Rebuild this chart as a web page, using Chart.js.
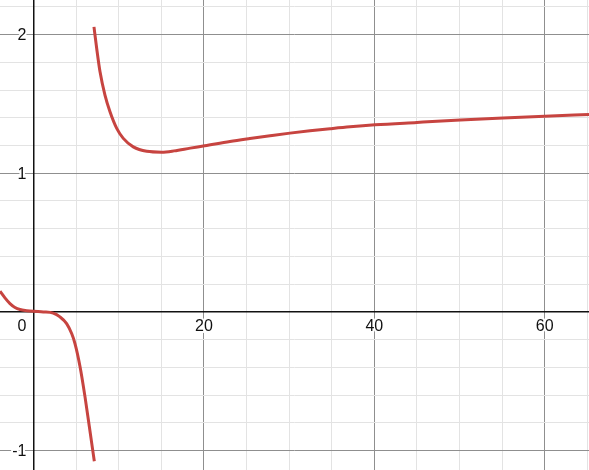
<!DOCTYPE html>
<html>
<head>
<meta charset="utf-8">
<script src="https://cdn.jsdelivr.net/npm/chart.js@4"></script>
<style>
  html, body { margin: 0; padding: 0; background: #fff; }
  #wrap { width: 589px; height: 470px; }
</style>
</head>
<body>
<div id="wrap"><canvas id="grafico"></canvas></div>
<script>
// Rama izquierda (antes de la asintota)
const leftX = [-3.93, -3.35, -2.76, -2.17, -1.58, -0.8, 0, 1.15, 2.32, 3.11, 3.89, 4.48, 4.87, 5.46, 6.04, 6.55, 7.14];
const leftY = [0.149, 0.101, 0.060, 0.032, 0.017, 0.009, 0.004, 0, -0.009, -0.036, -0.084, -0.156, -0.228, -0.393, -0.609, -0.825, -1.077];

// Rama derecha (despues de la asintota)
const rightX = [7.10, 7.42, 7.81, 8.39, 8.98, 9.77, 10.54, 11.71, 13.29, 15.05, 16.5, 18.4, 20.1, 23.06, 25.4, 27.76, 30.1, 32.45, 34.8, 37.15, 40.08, 45.0, 50.1, 55.1, 60.0, 65.2];
const rightY = [2.055, 1.899, 1.731, 1.563, 1.443, 1.323, 1.251, 1.190, 1.158, 1.152, 1.161, 1.181, 1.198, 1.229, 1.250, 1.270, 1.289, 1.306, 1.321, 1.335, 1.349, 1.366, 1.383, 1.398, 1.411, 1.423];

// Etiquetas de los ejes
const xTickLabels = [20, 40, 60];
const yTickLabels = [-1, 1, 2];
const originLabel = '0';

const rojo = '#c74440';
const familia = '"Liberation Sans", Arial, sans-serif';

function puntos(xs, ys) {
    return xs.map((x, i) => ({ x: x, y: ys[i] }));
}

function esDe(lista, v) {
    return lista.some(l => Math.abs(l - v) < 1e-6);
}

// Texto con borde blanco (estilo Desmos)
function texto(ctx, t, x, y) {
    ctx.strokeText(t, x, y);
    ctx.fillText(t, x, y);
}

// Las etiquetas van pegadas a los ejes, como en Desmos
const etiquetasEjes = {
    id: 'etiquetasEjes',
    beforeDatasetsDraw(chart) {
        const ctx = chart.ctx;
        const sx = chart.scales.x;
        const sy = chart.scales.y;
        const ox = sx.getPixelForValue(0);
        const oy = sy.getPixelForValue(0);
        ctx.save();
        ctx.font = '16px ' + familia;
        ctx.textBaseline = 'alphabetic';
        ctx.lineWidth = 4;
        ctx.lineJoin = 'round';
        ctx.strokeStyle = '#fff';
        ctx.fillStyle = '#111';

        ctx.textAlign = 'center';
        sx.ticks.forEach(t => {
            if (esDe(xTickLabels, t.value)) {
                texto(ctx, String(Math.round(t.value)), sx.getPixelForValue(t.value), oy + 19.5);
            }
        });

        ctx.textAlign = 'right';
        sy.ticks.forEach(t => {
            if (esDe(yTickLabels, t.value)) {
                texto(ctx, String(Math.round(t.value)), ox - 7, sy.getPixelForValue(t.value) + 5.5);
            }
        });

        texto(ctx, originLabel, ox - 7, oy + 19);
        ctx.restore();
    }
};

function sinRelleno(scale) {
    scale.paddingTop = 0;
    scale.paddingBottom = 0;
    scale.paddingLeft = 0;
    scale.paddingRight = 0;
}

const ctx = document.getElementById('grafico').getContext('2d');

new Chart(ctx, {
    type: 'line',
    data: {
        datasets: [{
            data: puntos(leftX, leftY),
            borderColor: rojo,
            borderWidth: 3,
            pointRadius: 0,
            cubicInterpolationMode: 'monotone'
        }, {
            data: puntos(rightX, rightY),
            borderColor: rojo,
            borderWidth: 3,
            pointRadius: 0,
            cubicInterpolationMode: 'monotone'
        }]
    },
    options: {
        responsive: true,
        maintainAspectRatio: false,
        animation: false,
        layout: { padding: 0 },
        plugins: {
            legend: { display: false },
            tooltip: { enabled: false }
        },
        scales: {
            x: {
                type: 'linear',
                min: -3.93,
                max: 65.2,
                position: { y: 0 },
                afterFit: sinRelleno,
                grid: {
                    drawTicks: false,
                    color: (c) => (c.tick && c.tick.value % 20 === 0) ? '#8f8f8f' : '#e3e3e3',
                    lineWidth: 1
                },
                border: { color: '#111', width: 1.5 },
                ticks: {
                    display: false,
                    stepSize: 5,
                    includeBounds: false,
                    autoSkip: false
                }
            },
            y: {
                type: 'linear',
                min: -1.14,
                max: 2.249,
                position: { x: 0 },
                afterFit: sinRelleno,
                grid: {
                    drawTicks: false,
                    color: (c) => {
                        const v = c.tick ? Math.round(c.tick.value * 1000) / 1000 : 0.5;
                        return Number.isInteger(v) ? '#8f8f8f' : '#e3e3e3';
                    },
                    lineWidth: 1
                },
                border: { color: '#111', width: 1.5 },
                ticks: {
                    display: false,
                    stepSize: 0.2,
                    includeBounds: false,
                    autoSkip: false
                }
            }
        }
    },
    plugins: [etiquetasEjes]
});
</script>
</body>
</html>
